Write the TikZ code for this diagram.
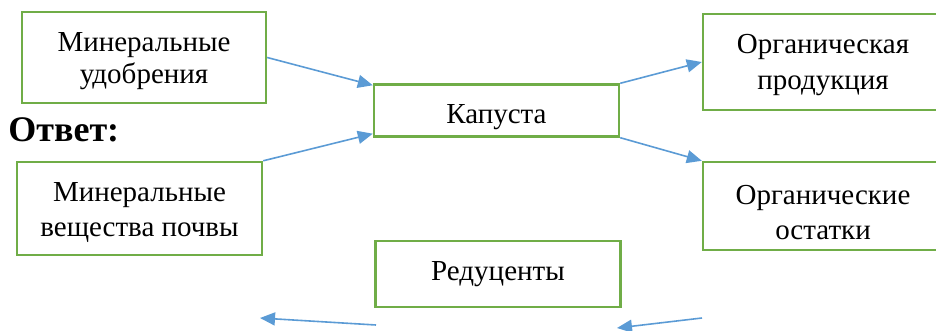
\documentclass[tikz,border=0pt]{standalone}
\usepackage{fontspec}
\setmainfont{Liberation Serif}
\usetikzlibrary{arrows.meta}
\definecolor{boxgreen}{HTML}{70AD47}
\definecolor{arrowblue}{HTML}{5B9BD5}
\tikzset{
  box/.style={draw=boxgreen, line width=1.2pt, fill=white, inner sep=0pt},
  txt/.style={align=center, inner sep=0pt, font=\fontsize{14.5}{17.5}\selectfont},
  flow/.style={draw=arrowblue, line width=0.8pt, -{Triangle[length=7.5pt,width=6.5pt]}}
}
\begin{document}
\begin{tikzpicture}[x=0.5pt,y=-0.5pt]
\useasboundingbox (0,0) rectangle (936,331);
\begin{scope}
\clip (0,0) rectangle (936,331);
\node[box, minimum width=122pt, minimum height=45.5pt,
  label={[txt, yshift=-2pt, font=\fontsize{14.5}{16}\selectfont]center:{Минеральные\\удобрения}}] (mu) at (144,57.5) {};
\node[box, minimum width=122.5pt, minimum height=26pt,
  label={[txt, yshift=-3.5pt]center:{Капуста}}] (kap) at (496.5,110.5) {};
\node[box, minimum width=120pt, minimum height=48pt,
  label={[txt, yshift=-1.5pt, font=\fontsize{14.5}{18}\selectfont]center:{Органическая\\продукция}}] (op) at (823,62) {};
\node[box, minimum width=120pt, minimum height=44pt,
  label={[txt, yshift=-3.3pt]center:{Органические\\остатки}}] (oo) at (823,206) {};
\node[box, minimum width=122.5pt, minimum height=46.5pt,
  label={[txt, yshift=-2pt]center:{Минеральные\\вещества почвы}}] (mv) at (139.5,208.5) {};
\node[box, minimum width=122.5pt, minimum height=33pt,
  label={[txt]center:{Редуценты}}] (red) at (498,274) {};
\end{scope}
\node[font=\bfseries\fontsize{18}{20}\selectfont, anchor=base west, inner sep=0pt] (otv) at (8,142) {Ответ:};
\draw[flow] (mu.east) -- ([yshift=-1pt]kap.north west);
\draw[flow] (mv.north east) -- ([yshift=2pt]kap.south west);
\draw[flow] (kap.north east) -- (op.west);
\draw[flow] (kap.south east) -- (oo.north west);
\coordinate (b1s) at (376,325);
\coordinate (b1e) at (260,318);
\coordinate (b2s) at (702,318);
\coordinate (b2e) at (617,328);
\draw[flow] (b1s) -- (b1e);
\draw[flow] (b2s) -- (b2e);
\end{tikzpicture}
\end{document}
